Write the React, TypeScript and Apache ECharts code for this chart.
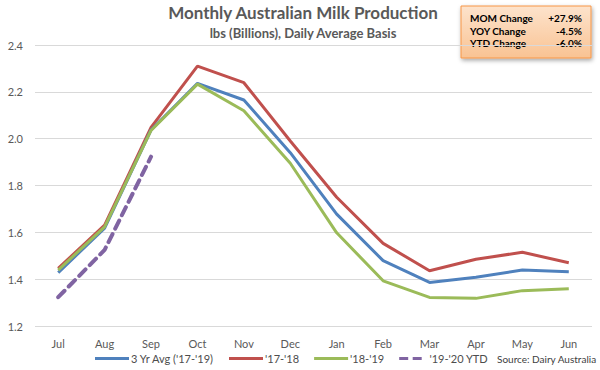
import React, { useEffect, useRef } from "react";
import * as echarts from "echarts";

const categories = ["Jul", "Aug", "Sep", "Oct", "Nov", "Dec", "Jan", "Feb", "Mar", "Apr", "May", "Jun"];
const avg3yr = [1.428, 1.618, 2.037, 2.236, 2.165, 1.94, 1.678, 1.479, 1.386, 1.408, 1.439, 1.432];
const fy1718 = [1.446, 1.631, 2.048, 2.31, 2.239, 1.99, 1.75, 1.553, 1.436, 1.485, 1.515, 1.47];
const fy1819 = [1.439, 1.623, 2.035, 2.233, 2.119, 1.895, 1.598, 1.393, 1.322, 1.318, 1.351, 1.359];
const fy1920 = [1.323, 1.525, 1.923];
const boxLabels = ["MOM Change", "YOY Change", "YTD Change"];
const boxValues = ["+27.9%", "-4.5%", "-6.0%"];

const FONT = "Lato, 'Open Sans', sans-serif";
const SOLID_ICON = "path://M0,0H34V3H0Z";
const DASH_ICON = "path://M0,0H12V4H0Z M18,0H30V4H18Z";

export default function App() {
  const ref = useRef<HTMLDivElement>(null);
  useEffect(() => {
    const chart = echarts.init(ref.current!, null, { renderer: "svg" });
    const boxItems: any[] = [];
    boxLabels.forEach((l, i) => {
      boxItems.push({
        type: "text",
        x: 470,
        y: 18 + i * 12.5,
        style: { text: l, font: `bold 10px ${FONT}`, fill: "#000", textVerticalAlign: "middle" },
      });
      boxItems.push({
        type: "text",
        x: 582,
        y: 18 + i * 12.5,
        style: { text: boxValues[i], font: `bold 10px ${FONT}`, fill: "#000", textAlign: "right", textVerticalAlign: "middle" },
      });
    });
    chart.setOption({
      animation: false,
      title: {
        text: "Monthly Australian Milk Production",
        subtext: "lbs (Billions), Daily Average Basis",
        left: 303,
        textAlign: "center",
        top: 4,
        padding: 0,
        itemGap: 5,
        textStyle: { fontFamily: FONT, fontSize: 17, fontWeight: "bold", color: "#595959" },
        subtextStyle: { fontFamily: FONT, fontSize: 13, fontWeight: "bold", color: "#595959" },
      },
      grid: { left: 35, right: 8, top: 45, bottom: 44, containLabel: false },
      xAxis: {
        type: "category",
        data: categories,
        boundaryGap: true,
        axisLine: { show: false },
        axisTick: { show: false },
        axisLabel: { fontFamily: FONT, fontSize: 11, color: "#595959", margin: 12 },
      },
      yAxis: {
        type: "value",
        min: 1.2,
        max: 2.4,
        interval: 0.2,
        axisLabel: { fontFamily: FONT, fontSize: 11, color: "#595959", margin: 12, formatter: (v: number) => v.toFixed(1) },
        splitLine: { lineStyle: { color: "#D9D9D9", width: 1 } },
        axisLine: { show: false },
        axisTick: { show: false },
      },
      legend: {
        top: 353,
        left: 95,
        padding: 0,
        itemWidth: 34,
        itemHeight: 3,
        itemGap: 15,
        textStyle: { fontFamily: FONT, fontSize: 11, color: "#4D4D4D", padding: [0, 0, 0, -3] },
        data: [
          { name: "3 Yr Avg ('17-'19)", icon: SOLID_ICON },
          { name: "'17-'18", icon: SOLID_ICON },
          { name: "'18-'19", icon: SOLID_ICON },
          { name: "'19-'20 YTD", icon: DASH_ICON, itemStyle: { color: "#8064A2" } },
        ],
      },
      series: [
        { name: "3 Yr Avg ('17-'19)", type: "line", data: avg3yr, symbol: "none", lineStyle: { color: "#4F81BD", width: 3 }, itemStyle: { color: "#4F81BD" }, z: 3 },
        { name: "'17-'18", type: "line", data: fy1718, symbol: "none", lineStyle: { color: "#C0504D", width: 3 }, itemStyle: { color: "#C0504D" }, z: 2 },
        { name: "'18-'19", type: "line", data: fy1819, symbol: "none", lineStyle: { color: "#9BBB59", width: 3 }, itemStyle: { color: "#9BBB59" }, z: 4 },
        { name: "'19-'20 YTD", type: "line", data: fy1920, symbol: "none", lineStyle: { color: "#8064A2", width: 4, type: [9, 6], cap: "round" }, itemStyle: { color: "#8064A2" }, z: 5 },
      ],
      graphic: [
        {
          type: "text",
          left: 497,
          top: 354,
          style: { text: "Source: Dairy Australia", font: `10px ${FONT}`, fill: "#404040" },
        },
        {
          type: "group",
          children: [
            {
              type: "rect",
              shape: { x: 461, y: 6, width: 130, height: 52 },
              style: {
                fill: new echarts.graphic.LinearGradient(0, 0, 0, 1, [
                  { offset: 0, color: "#FDE3CC" },
                  { offset: 1, color: "#F9C393" },
                ]),
                stroke: "#F79646",
                lineWidth: 1,
                shadowBlur: 4,
                shadowOffsetX: 1,
                shadowOffsetY: 2,
                shadowColor: "rgba(0,0,0,0.35)",
              },
            },
            ...boxItems,
          ],
        },
      ],
    });
    return () => chart.dispose();
  }, []);
  return <div ref={ref} style={{ width: 600, height: 370, position: "absolute", left: 0, top: 0 }} />;
}
